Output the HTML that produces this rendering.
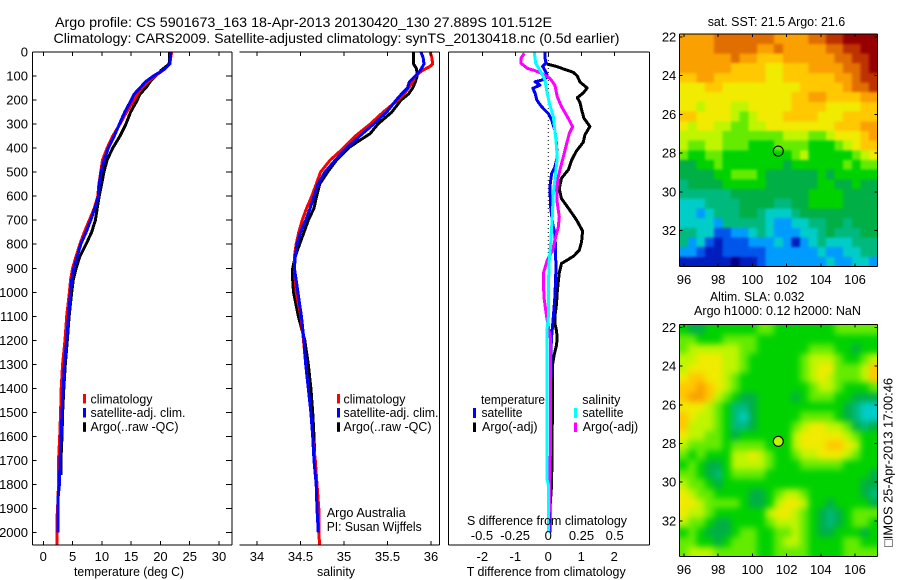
<!DOCTYPE html>
<html lang="en">
<head>
<meta charset="utf-8">
<title>Argo profile 5901673_163</title>
<style>
html,body{margin:0;padding:0;background:#fff;width:900px;height:580px;overflow:hidden}
svg{display:block}
text{font-family:"Liberation Sans","DejaVu Sans",sans-serif;font-size:13px;fill:#000}
</style>
</head>
<body>
<svg id="chart" xmlns="http://www.w3.org/2000/svg" width="900" height="580" viewBox="0 0 900 580">
<defs>
<filter id="sstSoft" x="-10%" y="-10%" width="120%" height="120%" color-interpolation-filters="sRGB"><feGaussianBlur stdDeviation="1.2"/></filter>
<filter id="slaSoft" x="-10%" y="-10%" width="120%" height="120%" color-interpolation-filters="sRGB"><feGaussianBlur stdDeviation="3.2"/></filter>
</defs>
<rect x="0" y="0" width="900" height="580" fill="#fff"/>
<g id="maps"></g>
<g id="marks"></g>
<g id="axes"></g>
<text x="55" y="27" font-size="14" style="font-size:14px" textLength="497" lengthAdjust="spacingAndGlyphs">Argo profile: CS 5901673_163 18-Apr-2013 20130420_130 27.889S 101.512E</text>
<text x="53.5" y="43" style="font-size:14px" textLength="566" lengthAdjust="spacingAndGlyphs">Climatology: CARS2009. Satellite-adjusted climatology: synTS_20130418.nc (0.5d earlier)</text>
<text x="74" y="576" textLength="110" lengthAdjust="spacingAndGlyphs">temperature (deg C)</text>
<text x="317" y="576" textLength="38" lengthAdjust="spacingAndGlyphs">salinity</text>
<text x="466.7" y="576" textLength="159" lengthAdjust="spacingAndGlyphs">T difference from climatology</text>
<text x="467" y="525" textLength="160" lengthAdjust="spacingAndGlyphs">S difference from climatology</text>

<g>
<rect x="83" y="394" width="3" height="9.5" fill="#f00"/>
<text x="90.5" y="403.5" textLength="62" lengthAdjust="spacingAndGlyphs">climatology</text>
<rect x="83" y="408" width="3" height="9.5" fill="#00f"/>
<rect x="83" y="422.3" width="3" height="9.5" fill="#000"/>
<text x="90.5" y="417" textLength="95" lengthAdjust="spacingAndGlyphs">satellite-adj. clim.</text>
<text x="90.5" y="431" textLength="88" lengthAdjust="spacingAndGlyphs">Argo(..raw -QC)</text>
</g>
<g>
<rect x="337" y="394" width="3" height="9.5" fill="#f00"/>
<text x="343.5" y="403.5" textLength="62" lengthAdjust="spacingAndGlyphs">climatology</text>
<rect x="337" y="408" width="3" height="9.5" fill="#00f"/>
<rect x="337" y="422.3" width="3" height="9.5" fill="#000"/>
<text x="343.5" y="417" textLength="95" lengthAdjust="spacingAndGlyphs">satellite-adj. clim.</text>
<text x="343.5" y="431" textLength="88" lengthAdjust="spacingAndGlyphs">Argo(..raw -QC)</text>
</g>
<text x="326.7" y="517" textLength="79" lengthAdjust="spacingAndGlyphs">Argo Australia</text>
<text x="326.7" y="531" textLength="95" lengthAdjust="spacingAndGlyphs">PI: Susan Wijffels</text>

<g>
<text x="481" y="404" textLength="64" lengthAdjust="spacingAndGlyphs">temperature</text>
<text x="582.3" y="404" textLength="38" lengthAdjust="spacingAndGlyphs">salinity</text>
<rect x="473" y="408" width="3" height="10" fill="#00f"/>
<text x="481.5" y="417" textLength="41" lengthAdjust="spacingAndGlyphs">satellite</text>
<rect x="473" y="422.5" width="3" height="9.5" fill="#000"/>
<text x="482" y="431" textLength="55.5" lengthAdjust="spacingAndGlyphs">Argo(-adj)</text>
<rect x="574" y="408" width="3" height="10" fill="#0ff"/>
<text x="582.5" y="417" textLength="41" lengthAdjust="spacingAndGlyphs">satellite</text>
<rect x="574" y="422.5" width="3" height="9.5" fill="#f0f"/>
<text x="582.7" y="431" textLength="55.5" lengthAdjust="spacingAndGlyphs">Argo(-adj)</text>
</g>

<text x="707.7" y="26" textLength="137.5" lengthAdjust="spacingAndGlyphs">sat. SST: 21.5 Argo: 21.6</text>
<text x="710" y="301" textLength="94.5" lengthAdjust="spacingAndGlyphs">Altim. SLA: 0.032</text>
<text x="694" y="315" textLength="167" lengthAdjust="spacingAndGlyphs">Argo h1000: 0.12 h2000: NaN</text>
<text transform="translate(892.5,547) rotate(-90)" x="0" y="0" textLength="169" lengthAdjust="spacingAndGlyphs">□IMOS 25-Apr-2013 17:00:46</text>
</svg>

<script>
/* ---------- profile data ---------- */
const tempClimDepths = [0,50,75,100,125,150,175,200,250,300,350,400,450,500,550,600,650,700,750,800,850,900,950,1000,1100,1200,1300,1400,1500,1600,1700,1800,1900,1950,2000,2050];
const tempClim = [21.9,21.6,20.5,19.1,17.8,16.8,16.05,15.5,14.2,13.1,11.85,10.9,10.1,9.8,9.5,9.3,8.7,7.85,7.0,6.25,5.6,5.0,4.65,4.45,4.0,3.7,3.3,3.05,2.95,2.8,2.6,2.6,2.45,2.3,2.3,2.3];
const tempSatDepths = [0,50,75,100,125,150,175,200,250,300,350,400,450,500,550,600,650,700,750,800,850,900,950,1000,1100,1200,1300,1400,1500,1600,1700,1800,1850,1900,2000];
const tempSat = [21.75,21.6,20.5,18.8,17.4,16.5,15.5,15.0,13.9,13.0,12.1,11.1,10.4,9.85,9.55,9.4,8.8,8.1,7.3,6.4,5.8,5.2,4.85,4.65,4.3,4.0,3.6,3.4,3.2,3.05,2.85,2.75,2.55,2.55,2.55];
const tempArgoDepths = [0,50,75,100,125,150,175,200,250,300,350,400,450,500,550,600,650,700,750,800,850,900,950,1000,1100,1200,1300,1400,1500,1600,1700,1760];
const tempArgo = [21.6,21.5,20.2,19.2,18.2,17.5,16.5,16.05,14.9,14.1,13.1,11.85,10.9,10.35,9.95,9.55,9.2,8.9,8.25,7.3,6.25,5.6,5.1,4.85,4.4,4.1,3.75,3.5,3.3,3.2,3.0,3.0];

const salClimDepths = [0,25,50,60,75,100,125,150,175,200,250,300,350,400,425,450,500,550,600,650,700,750,800,850,900,950,1000,1100,1200,1300,1400,1500,1600,1700,1800,1900,2000,2050];
const salClim = [35.99,36.01,36.02,35.99,35.91,35.82,35.79,35.74,35.69,35.62,35.45,35.30,35.13,34.99,34.92,34.84,34.73,34.68,34.63,34.57,34.52,34.48,34.45,34.43,34.43,34.44,34.45,34.505,34.535,34.56,34.59,34.62,34.64,34.67,34.69,34.71,34.71,34.72];
const salSatDepths = [0,25,50,75,100,125,150,175,200,250,300,350,400,450,500,550,600,650,700,750,800,850,900,950,1000,1100,1200,1300,1400,1500,1600,1700,1800,1900,2000];
const salSat = [35.885,35.91,35.92,35.88,35.82,35.75,35.73,35.66,35.6,35.49,35.34,35.18,35.03,34.90,34.78,34.7,34.655,34.61,34.56,34.5,34.46,34.44,34.43,34.45,34.47,34.51,34.54,34.56,34.59,34.62,34.64,34.655,34.68,34.69,34.705];
const salArgoDepths = [0,25,50,70,100,125,150,175,200,250,300,340,375,400,450,500,550,600,650,700,750,800,850,900,950,1000,1100,1200,1300,1400,1500,1600,1700,1800,1850];
const salArgo = [35.8,35.8,35.8,35.835,35.84,35.82,35.79,35.74,35.655,35.55,35.39,35.3,35.15,35.05,34.915,34.81,34.72,34.685,34.655,34.59,34.54,34.49,34.44,34.41,34.41,34.42,34.475,34.55,34.59,34.62,34.64,34.655,34.665,34.69,34.69];

const tDiffSatDepths = [0,25,45,60,89,105,117,124,138,151,172,200,228,256,283,325,381,436,478,506,561,644,714,756,825,908,1019,1103,1200,1400,1600,1800,2000];
const tDiffSat = [-0.10,-0.10,-0.07,-0.17,-0.05,-0.03,-0.20,-0.40,-0.25,-0.47,-0.40,-0.35,-0.20,0,0.10,0.20,0.25,0.27,0.20,0.10,0.05,0.07,0.13,0.20,0.22,0.23,0.20,0.15,0.09,0.07,0.07,0.05,0.03];
const tDiffArgoDepths = [50,60,70,85,100,125,150,170,190,210,240,275,310,345,375,415,450,490,525,570,610,650,700,745,790,825,850,880,920,1000,1050,1100,1130,1160,1190,1220,1260,1300,1400,1500,1600,1700,1800,1900,2000];
const tDiffArgo = [-0.05,0.25,0.45,0.76,0.88,0.96,1.18,1.06,0.88,0.96,1.01,1.08,1.26,1.11,1.06,0.84,0.71,0.61,0.40,0.33,0.40,0.61,0.86,1.04,1.01,0.94,0.76,0.40,0.33,0.27,0.25,0.20,0.20,0.25,0.27,0.25,0.18,0.13,0.13,0.13,0.11,0.11,0.10,0.05,0.05];
const sDiffSatDepths = [0,47,89,117,158,214,269,353,436,506,589,686,797,881,1019,1103,1150,1500,1780,1800,2000];
const sDiffSat = [-0.106,-0.095,-0.05,-0.025,-0.013,0.008,0.038,0.055,0.068,0.055,0.038,0.03,0.018,0.005,0,0,-0.008,-0.008,-0.008,0,0.003];
const sDiffArgoDepths = [6,26,47,68,78,89,110,138,186,228,269,311,339,394,464,519,575,631,686,728,783,825,867,922,1019,1103,1200,1400,1600,1800,2000];
const sDiffArgo = [-0.181,-0.206,-0.206,-0.158,-0.10,-0.05,0.013,0.05,0.068,0.10,0.143,0.183,0.158,0.133,0.10,0.075,0.063,0.068,0.083,0.075,0.05,0.033,-0.008,-0.038,-0.033,-0.012,0.018,0.018,0.018,0.01,0.005];

/* ---------- tick labels ---------- */
const depthTicks = [0,100,200,300,400,500,600,700,800,900,1000,1100,1200,1300,1400,1500,1600,1700,1800,1900,2000];
const tempTicks = [0,5,10,15,20,25,30];
const salTicks = [34,34.5,35,35.5,36];
const tDiffTicks = [-2,-1,0,1,2];
const sDiffTicks = [-0.5,-0.25,0,0.25,0.5];
const lonTicks = [96,98,100,102,104,106];
const latTicks = [22,24,26,28,30,32];

/* ---------- map data (colour levels 0 = coldest/lowest ... 15 = warmest/highest) ---------- */
const sstRows = [
[12,12,12,12,13,13,13,13,13,13,13,12,12,12,12,13,13,14,14,15,15,15,15],
[12,12,12,12,13,13,13,13,13,12,12,13,12,12,12,12,12,13,13,14,14,15,15],
[12,12,12,12,12,12,13,12,12,11,11,11,12,12,12,12,12,12,13,13,14,14,15],
[12,12,12,12,12,12,11,11,11,11,10,10,11,11,11,12,12,12,12,13,13,14,15],
[11,11,12,12,11,11,11,11,11,11,10,10,11,11,11,11,11,11,12,12,13,14,14],
[10,10,10,11,11,10,10,10,10,10,10,10,10,10,11,11,11,11,11,12,13,13,14],
[10,10,10,10,10,10,10,10,10,10,10,10,10,11,11,12,12,11,11,11,11,12,12],
[10,10,9,10,10,10,9,9,10,10,10,10,10,11,11,11,11,10,10,10,10,11,11],
[11,11,10,10,10,10,9,8,9,10,10,10,11,11,11,11,10,10,10,11,11,11,11],
[10,9,10,10,9,9,8,8,9,9,10,10,10,10,10,10,10,10,11,11,11,12,12],
[9,9,9,9,9,8,8,8,8,8,8,8,9,9,9,8,8,9,10,10,10,11,12],
[9,8,8,9,9,8,8,8,7,7,7,8,8,8,8,7,7,7,8,9,10,11,11],
[8,7,7,8,8,7,7,7,7,7,7,7,7,8,9,7,7,7,7,7,8,9,10],
[6,6,7,7,8,7,7,7,7,7,7,7,6,7,7,7,7,7,7,8,7,8,8],
[6,6,6,6,7,7,8,8,8,7,6,6,6,6,6,6,7,6,7,7,7,7,7],
[5,6,6,6,6,7,7,7,7,7,6,6,6,6,6,6,7,7,6,6,7,6,6],
[5,5,5,5,5,5,6,6,6,6,6,6,6,6,6,7,7,7,7,6,6,6,6],
[4,4,4,5,5,5,5,6,6,6,6,5,5,6,6,7,7,7,7,6,6,6,6],
[4,4,3,4,5,5,5,6,6,5,4,4,4,5,6,6,6,6,6,6,6,6,6],
[4,4,4,4,3,5,5,5,5,5,4,3,3,4,4,5,5,6,6,5,6,6,6],
[5,5,4,4,2,2,3,3,4,5,4,3,3,3,4,4,5,6,5,5,5,6,6],
[5,3,4,2,1,2,2,2,3,3,3,4,3,1,3,4,5,4,4,4,5,5,5],
[3,3,2,1,1,2,2,2,2,2,3,3,3,3,3,3,4,3,3,4,4,5,5],
[1,1,1,1,1,1,0,1,1,2,3,3,3,3,3,3,3,4,3,3,4,4,3]
];
const slaRows = [
[7,6,6,7,7,7,7,7,7,8,8,7,7,7,7,7,7,7,8,8,8,8,8],
[8,8,7,7,7,8,8,8,8,7,7,7,7,7,7,7,7,7,7,7,7,7,7],
[8,9,9,9,9,9,9,8,8,7,7,7,7,7,7,8,8,8,7,7,6,7,7],
[9,9,10,10,10,9,9,8,7,7,7,7,7,7,8,9,9,9,8,7,7,8,9],
[9,10,10,10,10,9,9,8,7,7,7,7,7,7,8,9,10,10,8,8,8,9,11],
[10,11,11,10,10,9,8,7,7,7,7,7,7,7,8,9,10,9,8,8,8,9,11],
[11,11,12,11,10,9,8,7,7,7,7,7,7,7,7,8,9,9,8,7,7,7,8],
[11,12,12,11,9,8,7,6,6,7,7,7,7,6,7,8,8,8,7,7,6,6,6],
[10,10,10,9,8,7,5,5,6,7,7,7,7,7,7,7,7,7,7,6,5,4,4],
[11,10,9,9,8,7,5,4,6,7,7,7,7,7,8,8,8,8,7,6,5,4,4],
[11,9,9,9,8,7,5,5,6,7,7,7,7,8,9,10,10,9,9,8,6,5,6],
[10,9,9,8,8,7,6,7,7,7,7,7,7,9,10,10,10,10,10,9,8,7,7],
[9,8,8,8,8,7,8,8,8,8,7,7,7,9,10,10,10,11,11,10,9,7,7],
[8,7,8,7,7,7,9,9,10,9,8,7,7,8,9,9,10,10,10,9,8,7,7],
[7,8,7,6,6,7,9,9,9,9,8,7,7,7,8,8,8,8,8,7,7,7,7],
[8,8,7,6,5,7,8,8,8,8,7,7,7,7,7,7,7,7,7,7,7,7,6],
[9,8,8,7,6,7,7,7,7,7,7,7,7,7,7,7,7,7,7,7,7,6,6],
[10,9,8,8,7,7,7,7,6,6,7,8,9,9,8,7,7,7,7,7,7,6,5],
[10,10,9,8,8,8,8,7,6,6,7,9,10,10,9,7,7,6,7,7,7,7,6],
[10,9,9,8,7,7,7,7,7,7,9,10,10,9,8,7,6,5,6,7,8,8,8],
[9,8,8,7,6,6,7,7,7,7,8,9,9,9,8,7,6,5,6,7,8,8,7],
[7,8,7,6,6,6,7,8,8,7,7,8,8,9,8,7,6,6,7,7,7,6,7],
[8,8,7,7,6,7,8,8,8,7,7,8,9,9,8,7,7,7,7,8,8,7,7],
[8,9,9,9,8,8,8,8,8,7,7,8,8,8,8,7,7,7,7,8,8,8,8]
];
const argoLon = [101.512];
const argoLat = [27.889];

/* ---------- scales ---------- */
const depthY = d => 52 + d * 0.2403;
const tempX = v => 43.3 + v * 5.857;
const salX = v => 257 + (v - 34) * 87;
const tDiffX = v => 548.3 + v * 33;
const sDiffX = v => 548.3 + v * 132.7;
const lonX = v => 684 + (v - 96) * 17.1;
const sstLatY = v => 37 + (v - 22) * 19.37;
const slaLatY = v => 327.5 + (v - 22) * 19.33;

const levelColors = ['rgb(0,0,130)','rgb(0,30,190)','rgb(0,85,235)','rgb(0,155,255)','rgb(0,205,200)','rgb(0,185,125)','rgb(0,175,70)','rgb(0,210,0)','rgb(100,235,0)','rgb(190,245,0)','rgb(240,235,0)','rgb(255,200,0)','rgb(250,160,0)','rgb(225,110,0)','rgb(190,50,0)','rgb(150,0,0)'];
const lonStart = 95.725, lonStep = 0.5043, latStart = 21.85, latStep = 0.5;

const NS = 'http://www.w3.org/2000/svg';
const marksLayer = document.getElementById('marks');
const axesLayer = document.getElementById('axes');
const mapsLayer = document.getElementById('maps');
const svgDefs = document.querySelector('defs');

function shape(parent, tag, attrs) {
  const el = document.createElementNS(NS, tag);
  for (const k in attrs) el.setAttribute(k, attrs[k]);
  parent.appendChild(el);
  return el;
}
function axisLine(x1, y1, x2, y2) {
  const el = shape(axesLayer, 'line', {x1, y1, x2, y2, stroke: '#000', 'stroke-width': 1, 'shape-rendering': 'crispEdges'});
  
  
}
function tickLabel(x, y, str, anchor) {
  const el = shape(axesLayer, 'text', {x, y, 'text-anchor': anchor});
  el.textContent = str;
  
  
}
function profile(xScale, values, depths, color, name) {
  const pts = values.map((v, i) => xScale(v).toFixed(1) + ',' + depthY(depths[i]).toFixed(1)).join(' ');
  const el = shape(marksLayer, 'polyline', {points: pts, fill: 'none', stroke: color, 'stroke-width': 3, 'stroke-linejoin': 'round', 'shape-rendering': 'crispEdges'});
  
  
}

/* ---------- profile series ---------- */
profile(tempX, tempArgo, tempArgoDepths, '#000', 'temperature-argo-line');
profile(tempX, tempClim, tempClimDepths, '#f00', 'temperature-climatology-line');
profile(tempX, tempSat, tempSatDepths, '#00f', 'temperature-satellite-line');
profile(salX, salArgo, salArgoDepths, '#000', 'salinity-argo-line');
profile(salX, salClim, salClimDepths, '#f00', 'salinity-climatology-line');
profile(salX, salSat, salSatDepths, '#00f', 'salinity-satellite-line');

const zeroLine = shape(marksLayer, 'line', {x1: tDiffX(0), y1: depthY(0), x2: tDiffX(0), y2: depthY(850), stroke: '#000', 'stroke-width': 1, 'stroke-dasharray': '1 3'});


profile(tDiffX, tDiffArgo, tDiffArgoDepths, '#000', 't-difference-argo-line');
profile(tDiffX, tDiffSat, tDiffSatDepths, '#00f', 't-difference-satellite-line');
profile(sDiffX, sDiffArgo, sDiffArgoDepths, '#f0f', 's-difference-argo-line');
profile(sDiffX, sDiffSat, sDiffSatDepths, '#0ff', 's-difference-satellite-line');

/* ---------- profile axes ---------- */
const axisTopY = depthY(0), axisBottomY = 545;
axisLine(32.5, axisTopY, 232, axisTopY); axisLine(32.5, axisBottomY, 232, axisBottomY);
axisLine(32.5, axisTopY, 32.5, axisBottomY); axisLine(232, axisTopY, 232, axisBottomY);
axisLine(239.5, axisTopY, 439.5, axisTopY); axisLine(239.5, axisBottomY, 439.5, axisBottomY);
axisLine(439.5, axisTopY, 439.5, axisBottomY);
axisLine(448.5, axisTopY, 649.5, axisTopY); axisLine(448.5, axisBottomY, 649.5, axisBottomY);
axisLine(448.5, axisTopY, 448.5, axisBottomY); axisLine(649.5, axisTopY, 649.5, axisBottomY);

depthTicks.forEach(d => {
  axisLine(32.5, depthY(d), 36.5, depthY(d));
  axisLine(226, depthY(d), 232, depthY(d));
  tickLabel(28, depthY(d) + 4.5, String(d), 'end');
});
tempTicks.forEach(v => {
  axisLine(tempX(v), axisTopY, tempX(v), axisTopY + 4);
  axisLine(tempX(v), axisBottomY - 4, tempX(v), axisBottomY);
  tickLabel(tempX(v), 561, String(v), 'middle');
});
salTicks.forEach(v => {
  axisLine(salX(v), axisTopY, salX(v), axisTopY + 4);
  axisLine(salX(v), axisBottomY - 4, salX(v), axisBottomY);
  tickLabel(salX(v), 561, String(v), 'middle');
});
tDiffTicks.forEach(v => {
  axisLine(tDiffX(v), axisTopY, tDiffX(v), axisTopY + 4);
  tickLabel(tDiffX(v), 561, String(v), 'middle');
});
sDiffTicks.forEach(v => {
  tickLabel(sDiffX(v), 540, String(v), 'middle');
});

/* ---------- maps ---------- */
function drawMap(rows, latY, name, filterId) {
  const cellW = lonX(lonStart + lonStep) - lonX(lonStart);
  const cellH = latY(latStart + latStep) - latY(latStart);
  const x0 = lonX(lonStart), x1 = lonX(lonStart + 23 * lonStep);
  const y0 = latY(latStart), y1 = latY(latStart + 24 * latStep);
  const clip = shape(svgDefs, 'clipPath', {id: name + '-clip'});
  shape(clip, 'rect', {x: x0, y: y0, width: x1 - x0, height: y1 - y0});
  const clipGroup = shape(mapsLayer, 'g', {'clip-path': 'url(#' + name + '-clip)'});
  
  
  const softGroup = shape(clipGroup, 'g', {filter: 'url(#' + filterId + ')'});
  
  
  const bleed = 14;
  rows.forEach((row, r) => {
    row.forEach((level, c) => {
      const left = c === 0 ? bleed : 0, right = c === row.length - 1 ? bleed : 0;
      const above = r === 0 ? bleed : 0, below = r === rows.length - 1 ? bleed : 0;
      const cell = shape(softGroup, 'rect', {
        x: (lonX(lonStart + c * lonStep) - left).toFixed(2),
        y: (latY(latStart + r * latStep) - above).toFixed(2),
        width: (cellW + 0.4 + left + right).toFixed(2),
        height: (cellH + 0.4 + above + below).toFixed(2),
        fill: levelColors[Math.max(0, Math.min(15, Math.round(level)))],
        'shape-rendering': 'crispEdges'
      });
      
      
    });
  });
  axisLine(x0, y0, x1, y0); axisLine(x0, y1, x1, y1);
  axisLine(x0, y0, x0, y1); axisLine(x1, y0, x1, y1);
  lonTicks.forEach(v => {
    axisLine(lonX(v), y0, lonX(v), y0 + 3);
    axisLine(lonX(v), y1 - 3, lonX(v), y1);
    tickLabel(lonX(v), y1 + 17.5, String(v), 'middle');
  });
  latTicks.forEach(v => {
    axisLine(x0, latY(v), x0 + 3, latY(v));
    axisLine(x1 - 3, latY(v), x1, latY(v));
    tickLabel(x0 - 3, latY(v) + 4.5, String(v), 'end');
  });
}
drawMap(sstRows, sstLatY, 'sst-map', 'sstSoft');
drawMap(slaRows, slaLatY, 'sla-map', 'slaSoft');

const sstMarker = shape(axesLayer, 'circle', {cx: lonX(argoLon[0]), cy: sstLatY(argoLat[0]), r: 5, fill: 'none', stroke: '#000', 'stroke-width': 1.1});


const slaMarker = shape(axesLayer, 'circle', {cx: lonX(argoLon[0]), cy: slaLatY(argoLat[0]), r: 5, fill: 'rgb(190,245,0)', stroke: '#000', 'stroke-width': 1.1});


</script>
</body>
</html>
